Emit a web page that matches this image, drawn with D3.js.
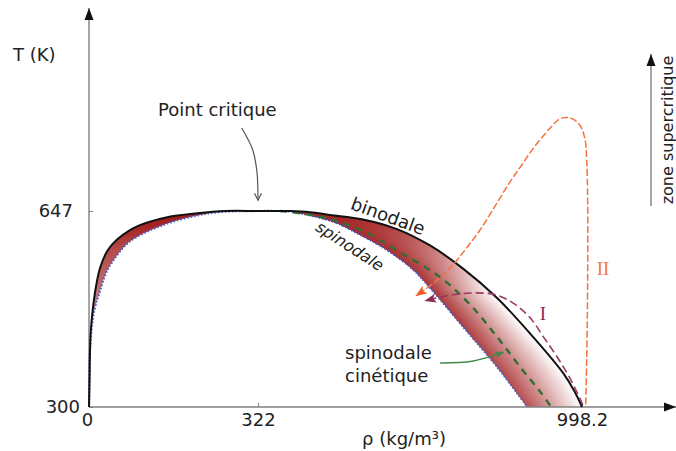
<!DOCTYPE html>
<html>
<head>
<meta charset="utf-8">
<title>Diagramme de phase de l'eau</title>
<script src="https://cdn.jsdelivr.net/npm/d3@7"></script>
<style>
body { margin: 0; background: #fff; }
svg { display: block; font-family: "DejaVu Sans", Verdana, sans-serif; }
</style>
</head>
<body>
<script>
// axis ticks
var rhoTicks = [0, 322, 998.2];
var tempTicks = [300, 647];

// curves, [rho (kg/m3), T (K)]
var binodale = [[0,300],[1,348],[2,401],[4,442],[11,500],[21,546],[36,578],[53,596],[78,613],[97,622],
  [149,636],[206,643],[259,647],[322,647],[389,647],[431,645],[472,640],[541,632],[612,615],[681,586],
  [750,545],[821,493],[890,430],[959,360],[983,327],[998.2,300]];
var spinodale = [[0,300],[1,348],[2,406],[10,470],[21,505],[32,536],[46,559],[78,593],[141,622],[206,639],
  [250,645],[322,647],[389,646],[410,643],[479,628],[535,605],[591,578],[646,543],[681,511],[750,442],
  [821,371],[884,300]];
var spinodaleCinetique = [[368,647],[410,643],[479,631],[550,608],[618,574],[702,530],[765,481],[821,424],
  [869,371],[911,327],[934,300]];
var cheminI = [[1000,304],[973,351],[946,389],[917,425],[890,458],[858,482],[821,498],[775,502],[723,498],[671,488]];
var cheminII = [[1006,305],[1008,383],[1010,525],[1010,666],[1008,737],[1004,776],[992,801],[973,812],[952,810],
  [930,792],[900,762],[872,728],[846,696],[817,656],[785,613],[754,578],[723,546],[691,521],[652,497]];

// pointers for the annotations
var flechePointCritique = [[291,794],[312,755],[320,716],[322,666]];
var flecheCinetique = [[702,378],[769,381],[834,397]];

var width = 676, height = 451;

var svg = d3.select("body").append("svg")
  .attr("width", width)
  .attr("height", height);

var x = d3.scaleLinear().domain([0, 322, 998.2]).range([89, 258, 582]);
var y = d3.scaleLinear().domain([300, 647]).range([407, 211]);

var line = d3.line()
  .x(function(d) { return x(d[0]); })
  .y(function(d) { return y(d[1]); })
  .curve(d3.curveCatmullRom.alpha(0.5));

// markers
var defs = svg.append("defs");
function marker(id, color, path, w, h, refX) {
  defs.append("marker")
    .attr("id", id)
    .attr("markerUnits", "userSpaceOnUse")
    .attr("viewBox", "0 " + (-h / 2) + " " + w + " " + h)
    .attr("markerWidth", w).attr("markerHeight", h)
    .attr("refX", refX).attr("refY", 0)
    .attr("orient", "auto")
    .append("path").attr("d", path).attr("fill", color);
}
marker("axisArrow", "#111", "M0,-4.5L12,0L0,4.5Z", 12, 10, 12);
marker("arrII", "#f25a28", "M0,-4.5L12,0L0,4.5L3,0Z", 12, 10, 11);
marker("arrI", "#8e2a55", "M0,-4.5L12,0L0,4.5L3,0Z", 12, 10, 11);
marker("arrGreen", "#3f8a4a", "M0,-3.5L9,0L0,3.5L2,0Z", 9, 8, 8);
defs.append("marker")
  .attr("id", "arrOpen")
  .attr("markerUnits", "userSpaceOnUse")
  .attr("viewBox", "-1 -5 10 10")
  .attr("markerWidth", 10).attr("markerHeight", 10)
  .attr("refX", 7).attr("refY", 0)
  .attr("orient", "auto")
  .append("path").attr("d", "M0,-3.5L7,0L0,3.5")
  .attr("fill", "none").attr("stroke", "#555").attr("stroke-width", 1.2);

// sample a curve (pixel space) along its length
function sample(pts, n) {
  var p = svg.append("path").attr("d", line(pts)).attr("fill", "none");
  var node = p.node(), L = node.getTotalLength(), out = [];
  for (var i = 0; i <= n; i++) {
    var q = node.getPointAtLength(L * i / n);
    out.push([q.x, q.y]);
  }
  p.remove();
  return out;
}
function lerp(a, b, t) { return [a[0] + (b[0] - a[0]) * t, a[1] + (b[1] - a[1]) * t]; }

// metastable zone between spinodale and binodale
var N = 80, M = 30;
var sL = sample(spinodale.filter(function(d) { return d[0] <= 322; }), N);
var bL = sample(binodale.filter(function(d) { return d[0] <= 322; }), N);
var sR = sample(spinodale.filter(function(d) { return d[0] >= 322; }), N);
var bR = sample(binodale.filter(function(d) { return d[0] >= 322; }), N);

var redWhite = d3.interpolateRgb("#9e1212", "#ffffff");
function shade(u, t) {
  var binoW = Math.min(1, u / 0.42);
  var spinL = 0.07 + 0.2 * u;
  return redWhite(binoW > spinL ? spinL + (binoW - spinL) * t : spinL);
}
function vGrad(id) {
  return defs.append("linearGradient").attr("id", id)
    .attr("gradientUnits", "userSpaceOnUse")
    .attr("x1", 0).attr("x2", 0).attr("y1", y(647)).attr("y2", y(300));
}

// left branch: one shape, darker at the top
var gl = vGrad("gLeft");
[[0, 0.03], [0.08, 0.08], [0.2, 0.24], [0.45, 0.42], [0.75, 0.55], [1, 0.62]].forEach(function(s) {
  gl.append("stop").attr("offset", s[0]).attr("stop-color", redWhite(s[1]));
});
svg.append("path")
  .attr("d", "M" + bL.join("L") + "L" + sL.slice().reverse().join("L") + "Z")
  .attr("fill", "url(#gLeft)");

// right branch: nested shapes from the binodale side inwards
var uStops = d3.range(0, 1.0001, 0.05);
var bands = d3.range(M, 0, -1);
bands.forEach(function(j) {
  var g = vGrad("gR" + j), t = (j - 0.5) / M;
  uStops.forEach(function(u) {
    g.append("stop").attr("offset", u).attr("stop-color", shade(u, t));
  });
});
svg.append("g").selectAll("path")
  .data(bands)
  .enter().append("path")
  .attr("d", function(j) {
    var t = j / M;
    var edge = sR.map(function(p, i) { return lerp(p, bR[i], t); }).reverse();
    return "M" + sR.join("L") + "L" + edge.join("L") + "Z";
  })
  .attr("fill", function(j) { return "url(#gR" + j + ")"; });

// axes
var axisColor = "#808080";
svg.append("line")
  .attr("x1", x(0)).attr("y1", y(300)).attr("x2", x(0)).attr("y2", 8)
  .attr("stroke", axisColor).attr("stroke-width", 1.4)
  .attr("marker-end", "url(#axisArrow)");
svg.append("line")
  .attr("x1", x(0)).attr("y1", y(300)).attr("x2", 676).attr("y2", y(300))
  .attr("stroke", axisColor).attr("stroke-width", 1.4)
  .attr("marker-end", "url(#axisArrow)");

var gx = svg.append("g")
  .attr("transform", "translate(0," + y(300) + ")")
  .call(d3.axisBottom(x).tickValues(rhoTicks).tickSize(-4).tickPadding(6)
    .tickFormat(function(d) { return d; }));
var gy = svg.append("g")
  .attr("transform", "translate(" + x(0) + ",0)")
  .call(d3.axisLeft(y).tickValues(tempTicks).tickSize(-4).tickPadding(16)
    .tickFormat(function(d) { return d; }));
[gx, gy].forEach(function(g) {
  g.select(".domain").remove();
  g.selectAll("line").attr("stroke", axisColor);
  g.selectAll("text").style("font-size", "18px").attr("fill", "#222")
    .style("font-family", "DejaVu Sans, Verdana, sans-serif");
});
gy.selectAll(".tick").filter(function(d) { return d == 300; }).select("text").attr("x", -9);
gx.selectAll(".tick").filter(function(d) { return d == 0; }).select("text").attr("x", -2);
gx.selectAll(".tick").filter(function(d) { return d == 0; }).select("line").remove();

// curves
svg.append("path").attr("d", line(spinodale))
  .attr("fill", "none").attr("stroke", "#4063cc").attr("stroke-width", 2.2)
  .attr("stroke-dasharray", "1.5,2");
svg.append("path").attr("d", line(spinodaleCinetique))
  .attr("fill", "none").attr("stroke", "#2f6e35").attr("stroke-width", 2.4)
  .attr("stroke-dasharray", "7,6");
svg.append("path").attr("d", line(binodale))
  .attr("fill", "none").attr("stroke", "#111").attr("stroke-width", 2);
svg.append("path").attr("d", line(cheminI))
  .attr("fill", "none").attr("stroke", "#9a3a62").attr("stroke-width", 1.6)
  .attr("stroke-dasharray", "8,4")
  .attr("marker-end", "url(#arrI)");
svg.append("path").attr("d", line(cheminII))
  .attr("fill", "none").attr("stroke", "#f4733e").attr("stroke-width", 1.5)
  .attr("stroke-dasharray", "7,2.5")
  .attr("marker-end", "url(#arrII)");

// annotation pointers
svg.append("path").attr("d", line(flechePointCritique))
  .attr("fill", "none").attr("stroke", "#555").attr("stroke-width", 1.2)
  .attr("marker-end", "url(#arrOpen)");
svg.append("path").attr("d", line(flecheCinetique))
  .attr("fill", "none").attr("stroke", "#3f8a4a").attr("stroke-width", 1.4)
  .attr("marker-end", "url(#arrGreen)");

// zone supercritique arrow
svg.append("line")
  .attr("x1", 651).attr("y1", 206).attr("x2", 651).attr("y2", 54)
  .attr("stroke", axisColor).attr("stroke-width", 1.4)
  .attr("marker-end", "url(#axisArrow)");

// texts
function label(txt, tx, ty, size, opts) {
  opts = opts || {};
  var t = svg.append("text")
    .attr("transform", "translate(" + tx + "," + ty + ")" + (opts.rotate ? " rotate(" + opts.rotate + ")" : ""))
    .attr("text-anchor", opts.anchor || "start")
    .attr("dy", opts.dy || 0)
    .style("font-size", size + "px")
    .attr("fill", opts.color || "#222")
    .text(txt);
  if (opts.italic) t.style("font-style", "italic");
  if (opts.family) t.style("font-family", opts.family);
  return t;
}
label("T (K)", 13, 61, 18);
label("Point critique", 158, 116, 18);
label("ρ (kg/m³)", 404, 445, 18, {anchor: "middle"});
label("zone supercritique", 667, 130, 16, {anchor: "middle", rotate: -90, dy: "0.35em"});
label("binodale", 388, 216, 18, {anchor: "middle", rotate: 20, dy: "0.35em"});
label("spinodale", 350, 246, 16, {anchor: "middle", rotate: 33, dy: "0.35em", italic: true});
label("spinodale", 345, 359, 18);
label("cinétique", 345, 382, 18);
label("I", 543, 313, 19, {anchor: "middle", dy: "0.35em", color: "#8e2a55", family: "Liberation Serif, DejaVu Serif, serif"});
label("II", 603, 268, 19, {anchor: "middle", dy: "0.35em", color: "#f07a4a", family: "Liberation Serif, DejaVu Serif, serif"});
</script>
</body>
</html>
